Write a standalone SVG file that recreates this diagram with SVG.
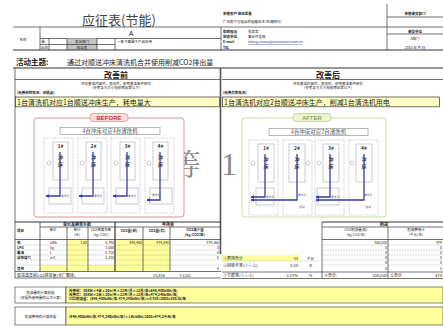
<svg xmlns="http://www.w3.org/2000/svg" width="443" height="326" viewBox="0 0 443 326">
<defs>
<style>
text{font-family:"Noto Sans CJK SC","Liberation Sans",sans-serif;fill:#222}
.t4{font-size:4px}
.t35{font-size:3.5px}
.b{font-weight:bold}
.m{text-anchor:middle}
.e{text-anchor:end}
.ln{stroke:#333;stroke-width:0.7;fill:none}
.thk{stroke:#333;stroke-width:1.2;fill:none}
.dot{stroke:#777;stroke-width:0.4;stroke-dasharray:0.8 0.8;fill:none}
.yl{fill:#ffff9c}
.col{fill:none;stroke:#aaa;stroke-width:0.6;stroke-dasharray:1.2 1}
.press{fill:#fff;stroke:#a8a8c8;stroke-width:0.6}
.wash{fill:none;stroke:#a8a8c8;stroke-width:0.6}
.pl{font-size:5px;font-weight:bold;fill:#333;text-anchor:middle}
.tiny{font-size:2.8px;fill:#666;text-anchor:middle}
.flow{stroke:#3a3aa8;stroke-width:1.3;fill:none}
.circ{fill:#fff;stroke:#999;stroke-width:0.5}
</style>
<marker id="ah" viewBox="0 0 6 6" refX="5" refY="3" markerWidth="3.2" markerHeight="3.2" orient="auto">
<path d="M0,0L6,3L0,6z" fill="#3a3aa8"/>
</marker>
</defs>
<rect width="443" height="326" fill="#fff"/>

<g id="header">
<text x="119" y="25" class="m" style="font-size:13px;fill:#444">应征表(节能)</text>
<line x1="13" y1="27" x2="443" y2="27" class="ln"/>
<line x1="40" y1="27" x2="40" y2="50" class="ln"/>
<text x="23" y="41" class="t35 m">名称</text>
<text x="131" y="36" class="m" style="font-size:7px;font-family:'Liberation Sans',sans-serif">A</text>
<line x1="40" y1="38.5" x2="221" y2="38.5" class="ln"/>
<rect x="67" y="38.5" width="30" height="11.5" fill="#c4c4c4"/>
<line x1="40" y1="44.5" x2="115" y2="44.5" class="ln"/>
<line x1="49" y1="38.5" x2="49" y2="50" class="ln"/>
<line x1="67" y1="38.5" x2="67" y2="50" class="ln"/>
<line x1="97" y1="38.5" x2="97" y2="50" class="ln"/>
<line x1="115" y1="38.5" x2="115" y2="50" class="ln"/>
<text x="41" y="43" class="t35">课:</text>
<text x="41" y="49" class="t35">出处</text>
<text x="82" y="43" class="t35 m">发出部门</text>
<text x="82" y="49" class="t35 m">担当者</text>
<text x="117" y="43" class="t35">一条下图属于产品应用</text>
<line x1="221" y1="27" x2="221" y2="50" class="ln"/>
<text x="223" y="15" class="t35 b">审核客户 应征报告</text>
<text x="223" y="23" class="t35">广岛和下记理品的理能由本(申请顾问)</text>
<line x1="387" y1="4" x2="387" y2="50" class="ln"/>
<text x="415" y="15" class="t35 m b">审核提交部门</text>
<line x1="387" y1="17" x2="443" y2="17" class="ln"/>
<text x="223" y="32.5" class="t35 b">联络担当</text>
<text x="248" y="32.5" class="t35">张某某</text>
<text x="223" y="37.5" class="t35 b">制造单位</text>
<text x="248" y="37.5" class="t35">事业开发部</text>
<text x="223" y="43" class="t35 b">E-mail</text>
<text x="248" y="43" class="t35" style="fill:#2233aa;text-decoration:underline">zhang.xxxxxx@xxxxxxxxxx.com.cn</text>
<text x="223" y="48.5" class="t35 b">TEL</text>
<text x="415" y="32.5" class="t35 m b">提交单位</text>
<line x1="387" y1="34" x2="443" y2="34" class="ln"/>
<text x="415" y="40" class="t35 m">A部门</text>
<text x="415" y="48.5" class="t35 m">2018 年 月 日</text>
<line x1="13" y1="50" x2="443" y2="50" class="thk"/>
<text x="16" y="65" class="b" style="font-size:7.5px">活动主题:</text>
<text x="67" y="65" style="font-size:7px">通过对顺送冲床清洗机合并使用削减CO2排出量</text>
<line x1="13" y1="68" x2="443" y2="68" class="thk"/>
</g>

<g id="watermark">
<text x="171" y="175" style="font-size:30px;fill:#8a8a8a;font-family:'Noto Serif CJK SC','Liberation Serif',serif">等</text>
<text x="229" y="175" class="m" style="font-size:32px;fill:#8a8a8a;font-family:'Liberation Serif',serif">1</text>
</g>

<g id="before-panel">
<line x1="15" y1="68" x2="15" y2="278" class="ln"/>
<text x="116" y="77.5" class="m b" style="font-size:8px">改善前</text>
<line x1="15" y1="79.5" x2="220" y2="79.5" class="ln"/>
<text x="116" y="84.5" class="t35 m">评估基准内容栏、其他栏、依照基准条件研究</text>
<text x="116" y="89" class="t35 m">(参考各方大小规模物品等以下)</text>
<text x="17" y="94" class="t35 b">[改善前的情况、问题点]</text>
<rect x="15.5" y="97" width="204" height="9.8" fill="#ffffc2" stroke="#333" stroke-width="0.7"/>
<text x="17" y="104.5" style="font-size:7px">1台清洗机对应1台顺送冲床生产，耗电量大</text>
</g>

<g id="after-panel">
<text x="328" y="77.5" class="m b" style="font-size:8px">改善后</text>
<line x1="222" y1="79.5" x2="443" y2="79.5" class="ln"/>
<text x="328" y="84.5" class="t35 m">评估基准内容栏、其他栏、依照基准条件研究</text>
<text x="328" y="89" class="t35 m">(参考各方大小规模物品等以下)</text>
<text x="223" y="94" class="t35 b">[改善后的情况]</text>
<rect x="222.5" y="97" width="217" height="9.8" fill="#ffffc2" stroke="#333" stroke-width="0.7"/>
<text x="224" y="104.5" style="font-size:7px">1台清洗机对应2台顺送冲床生产，削减1台清洗机用电</text>
</g>

<g id="before-frame">
<rect x="34" y="118" width="150" height="99" rx="3" fill="#fff" stroke="#d88a8a" stroke-width="0.9"/>
<rect x="90" y="113.5" width="38" height="8" rx="3" fill="#fbdcdc" stroke="#d47878" stroke-width="0.6"/>
<text x="109" y="120" class="m b" style="font-size:6px;fill:#c03434;font-family:'Liberation Sans',sans-serif">BEFORE</text>
<rect x="60" y="127.5" width="100" height="7" fill="#fff" stroke="#888" stroke-width="0.6"/>
<text x="110" y="133" class="m" style="font-size:5.5px;font-family:'Noto Serif CJK SC','Noto Sans CJK SC',serif">4台冲床对应4台清洗机</text>
</g>

<g id="b1">
<rect x="44" y="138" width="29" height="75" class="col"/>
<rect x="53" y="142" width="15" height="38" class="press"/>
<text x="60.5" y="148" class="pl">1#</text><text x="60.5" y="159" class="pl">冲</text><text x="60.5" y="166" class="pl">床</text>
<circle cx="49" cy="163" r="2" class="circ"/>
<rect x="49" y="188" width="22" height="16" class="wash"/>
<text x="65" y="197" class="tiny">清洗机</text>
</g>
<g id="b2">
<rect x="78" y="138" width="29" height="75" class="col"/>
<rect x="86" y="142" width="15" height="38" class="press"/>
<text x="93.5" y="148" class="pl">2#</text><text x="93.5" y="159" class="pl">冲</text><text x="93.5" y="166" class="pl">床</text>
<circle cx="82" cy="163" r="2" class="circ"/>
<rect x="82" y="188" width="22" height="16" class="wash"/>
<text x="98" y="197" class="tiny">清洗机</text>
</g>
<g id="b3">
<rect x="111" y="138" width="29" height="75" class="col"/>
<rect x="120" y="142" width="15" height="38" class="press"/>
<text x="127.5" y="148" class="pl">3#</text><text x="127.5" y="159" class="pl">冲</text><text x="127.5" y="166" class="pl">床</text>
<circle cx="116" cy="163" r="2" class="circ"/>
<rect x="116" y="188" width="22" height="16" class="wash"/>
<text x="132" y="197" class="tiny">清洗机</text>
</g>
<g id="b4">
<rect x="145" y="138" width="29" height="75" class="col"/>
<rect x="153" y="142" width="15" height="38" class="press"/>
<text x="160.5" y="148" class="pl">4#</text><text x="160.5" y="159" class="pl">冲</text><text x="160.5" y="166" class="pl">床</text>
<circle cx="149" cy="163" r="2" class="circ"/>
<rect x="150" y="188" width="22" height="16" class="wash"/>
<text x="156" y="196" class="tiny">清洗机</text>
</g>

<g id="after-frame">
<rect x="242" y="118" width="144" height="99" rx="3" fill="#fff" stroke="#c8d89c" stroke-width="0.9"/>
<rect x="293" y="113.5" width="38" height="8" rx="3" fill="#ecf4d4" stroke="#aac274" stroke-width="0.6"/>
<text x="312" y="120" class="m" style="font-size:6px;fill:#6a8a2a;font-family:'Liberation Sans',sans-serif">AFTER</text>
<rect x="269" y="128.5" width="99" height="7" fill="#fff" stroke="#888" stroke-width="0.6"/>
<text x="318.5" y="134" class="m" style="font-size:5.5px;font-family:'Noto Serif CJK SC','Noto Sans CJK SC',serif">4台冲床对应2台清洗机</text>
</g>

<g id="a1">
<rect x="249" y="140" width="29" height="75" class="col"/>
<rect x="258" y="144" width="16" height="38" class="press"/>
<text x="266" y="150" class="pl">1#</text><text x="266" y="161" class="pl">冲</text><text x="266" y="168" class="pl">床</text>
<circle cx="253" cy="163" r="2" class="circ"/>
<rect x="256" y="188" width="18" height="17" class="wash"/>
<text x="270" y="198" class="tiny">清洗机</text>
</g>
<g id="a2">
<rect x="283" y="140" width="29" height="75" class="col"/>
<rect x="289" y="144" width="16" height="38" class="press"/>
<text x="297" y="150" class="pl">2#</text><text x="297" y="161" class="pl">冲</text><text x="297" y="168" class="pl">床</text>
<circle cx="308" cy="163" r="2" class="circ"/>
<text x="302" y="196" class="tiny">清洗机</text>
<text x="302" y="208" class="tiny">取消</text>
</g>
<g id="a3">
<rect x="315" y="140" width="29" height="75" class="col"/>
<rect x="323" y="144" width="16" height="38" class="press"/>
<text x="331" y="150" class="pl">3#</text><text x="331" y="161" class="pl">冲</text><text x="331" y="168" class="pl">床</text>
<circle cx="319" cy="163" r="2" class="circ"/>
<rect x="317" y="188" width="22" height="17" class="wash"/>
<text x="335" y="198" class="tiny">清洗机</text>
</g>
<g id="a4">
<rect x="349" y="140" width="29" height="75" class="col"/>
<rect x="356" y="144" width="16" height="38" class="press"/>
<text x="364" y="150" class="pl">4#</text><text x="364" y="161" class="pl">冲</text><text x="364" y="168" class="pl">床</text>
<circle cx="352" cy="163" r="2" class="circ"/>
<text x="368" y="196" class="tiny">清洗机</text>
<text x="368" y="208" class="tiny">取消</text>
</g>

<g id="connectors">
<path d="M60,152V196H46" class="flow" marker-end="url(#ah)"/>
<path d="M93,152V196H79" class="flow" marker-end="url(#ah)"/>
<path d="M127,152V196H113" class="flow" marker-end="url(#ah)"/>
<path d="M160,152V200H147" class="flow" marker-end="url(#ah)"/>
<path d="M265,154V197H251" class="flow" marker-end="url(#ah)"/>
<path d="M297,154V200H251" class="flow" marker-end="url(#ah)"/>
<path d="M330,154V197H316" class="flow" marker-end="url(#ah)"/>
<path d="M364,154V200H316" class="flow" marker-end="url(#ah)"/>
</g>

<g id="divider">
<line x1="220.5" y1="68" x2="220.5" y2="254" stroke="#555" stroke-width="1.6"/>
</g>

<g id="left-table">
<rect x="67" y="240" width="21" height="31.5" class="yl"/>
<rect x="115" y="240" width="55" height="31.5" class="yl"/>
<rect x="40" y="265" width="75" height="6.5" class="yl"/>
<line x1="15" y1="222" x2="221" y2="222" class="thk"/>
<line x1="40" y1="227" x2="221" y2="227" class="ln"/>
<line x1="15" y1="239.5" x2="221" y2="239.5" class="ln"/>
<line x1="15" y1="245" x2="221" y2="245" class="dot"/>
<line x1="15" y1="250" x2="221" y2="250" class="dot"/>
<line x1="15" y1="255" x2="221" y2="255" class="dot"/>
<line x1="15" y1="260" x2="221" y2="260" class="dot"/>
<line x1="15" y1="265" x2="221" y2="265" class="dot"/>
<line x1="15" y1="271.5" x2="221" y2="271.5" class="ln"/>
<line x1="15" y1="278" x2="221" y2="278" class="ln"/>
<line x1="40" y1="222" x2="40" y2="271.5" class="ln"/>
<line x1="67" y1="227" x2="67" y2="271.5" class="ln"/>
<line x1="88" y1="227" x2="88" y2="271.5" class="ln"/>
<line x1="115" y1="222" x2="115" y2="271.5" class="thk"/>
<line x1="143" y1="227" x2="143" y2="271.5" class="ln"/>
<line x1="170" y1="227" x2="170" y2="271.5" class="ln"/>
<text x="77" y="226" class="t4 m b">单价及换算系数</text>
<text x="168" y="226" class="t4 m b">年排量</text>
<text x="17" y="232" class="t35 b">项目</text>
<text x="53" y="231" class="t35 m">单位</text>
<text x="77" y="231" class="t35 m">单价</text>
<text x="77" y="236" class="t35 m">(元)</text>
<text x="101" y="231" class="t35 m">CO2换算系数</text>
<text x="101" y="236" class="t35 m">(kg-CO2/)</text>
<text x="129" y="232" class="t35 m b">CO2量(前)</text>
<text x="157" y="232" class="t35 m b">CO2量(后)</text>
<text x="195" y="231" class="t35 m b">CO2减少量</text>
<text x="195" y="236" class="t35 m b">(kg-CO2/年)</text>
<text x="17" y="244" class="t35 b">电</text>
<text x="17" y="249" class="t35 b">LPG</text>
<text x="17" y="254" class="t35 b">重油</text>
<text x="17" y="259" class="t35 b">城市煤气</text>
<text x="17" y="270" class="t35 b">其他</text>
<text x="50" y="244" class="t35">kWh</text>
<text x="50" y="249" class="t35">kg</text>
<text x="50" y="254" class="t35">L</text>
<text x="50" y="259" class="t35">m3</text>
<text x="87" y="244" class="t35 e">1.00</text>
<text x="114" y="244" class="t35 e">0.745</text>
<text x="114" y="249" class="t35 e">3.000</text>
<text x="114" y="254" class="t35 e">2.710</text>
<text x="114" y="259" class="t35 e">2.230</text>
<text x="142" y="244" class="t35 e">848,400</text>
<text x="169" y="244" class="t35 e">474,240</text>
<text x="219" y="244" class="t35 e">374,160</text>
<text x="219" y="249" class="t35 e">0</text>
<text x="219" y="254" class="t35 e">0</text>
<text x="219" y="259" class="t35 e">0</text>
<text x="219" y="270" class="t35 e">0</text>
<text x="17" y="276.5" class="t4">促进改善前CO2排放量(全厂整体)</text>
<text x="165" y="276.5" class="t4 e">15,458</text>
<text x="180" y="276.5" class="t4">t-CO2</text>
</g>

<g id="summary">
<rect x="222" y="255" width="77" height="6" class="yl"/>
<text x="223" y="259.5" class="t4">①费用合计</text>
<text x="298" y="259.5" class="t4 e">55</text>
<text x="307" y="259.5" class="t35">千元</text>
<line x1="222" y1="261" x2="320" y2="261" class="dot"/>
<text x="223" y="266.5" class="t4">②回收年率(①÷②)</text>
<text x="298" y="266.5" class="t4 e">0.20</text>
<text x="309" y="266.5" class="t35">年</text>
<line x1="222" y1="272" x2="443" y2="272" class="ln"/>
<text x="223" y="276.5" class="t4">③节能率(①÷②)</text>
<text x="298" y="276.5" class="t4 e">2.27%</text>
<text x="309" y="276.5" class="t35">%</text>
<line x1="222" y1="278.5" x2="443" y2="278.5" class="ln"/>
</g>

<g id="right-table">
<line x1="322" y1="222" x2="443" y2="222" class="thk"/>
<line x1="322" y1="222" x2="322" y2="278.5" class="ln"/>
<line x1="388" y1="227" x2="388" y2="278.5" class="ln"/>
<line x1="322" y1="227" x2="443" y2="227" class="ln"/>
<line x1="322" y1="239.5" x2="443" y2="239.5" class="ln"/>
<line x1="322" y1="245" x2="443" y2="245" class="dot"/>
<line x1="322" y1="250" x2="443" y2="250" class="dot"/>
<line x1="322" y1="255" x2="443" y2="255" class="dot"/>
<line x1="322" y1="260" x2="443" y2="260" class="dot"/>
<line x1="322" y1="265" x2="443" y2="265" class="dot"/>
<text x="384" y="226" class="t4 m b">削减</text>
<text x="356" y="231" class="t35 m">CO2削减量(前)</text>
<text x="356" y="236" class="t35 m">(kg-CO2/年)</text>
<text x="416" y="231" class="t35 m">削减费用计</text>
<text x="416" y="236" class="t35 m">(千元/年)</text>
<text x="387" y="244" class="t35 e">350,030</text>
<text x="442" y="244" class="t35 e">474</text>
<text x="387" y="249" class="t35 e">0</text><text x="442" y="249" class="t35 e">0</text>
<text x="387" y="254" class="t35 e">0</text><text x="442" y="254" class="t35 e">0</text>
<text x="387" y="259" class="t35 e">0</text><text x="442" y="259" class="t35 e">0</text>
<text x="387" y="264" class="t35 e">0</text><text x="442" y="264" class="t35 e">0</text>
<text x="387" y="270" class="t35 e">0</text><text x="442" y="270" class="t35 e">0</text>
<text x="324" y="276.5" class="t4">④合计:</text>
<text x="387" y="276.5" class="t4 e">350,030</text>
<text x="390" y="276.5" class="t4">⑤合计:</text>
<text x="442" y="276.5" class="t4 e">474</text>
</g>

<g id="formula">
<rect x="15" y="287" width="51" height="16" fill="#fff" stroke="#333" stroke-width="0.6"/>
<rect x="66" y="287" width="377" height="16" class="yl" stroke="#333" stroke-width="0.6"/>
<text x="40.5" y="294" class="t35 m">削减量的计算依据</text>
<text x="40.5" y="298.5" class="t35 m">(依据所使用量的公式计算)</text>
<text x="69" y="291.5" class="t35 b">改善前：35KW×4台×20h/天×22天/月×12月/年=848,400kWh/年;</text>
<text x="69" y="295.5" class="t35 b">改善后：35KW×2台×20h/天×22天/月×12月/年=474,240kWh/年;</text>
<text x="69" y="300" class="t35 b">CO2削减量：(848,400kWh/年-474,240kWh/年)×0.935/1000=350.0t/年</text>
<rect x="15" y="307" width="51" height="18" fill="#fff" stroke="#333" stroke-width="0.6"/>
<rect x="66" y="307" width="377" height="18" class="yl" stroke="#333" stroke-width="0.6"/>
<text x="40.5" y="317.5" class="t35 m">削减费用的计算依据</text>
<text x="69" y="317.5" class="t35 b">(848,400kWh/年-474,240kWh/年)×1元/kWh/1000=474.2千元/年</text>
</g>
</svg>
